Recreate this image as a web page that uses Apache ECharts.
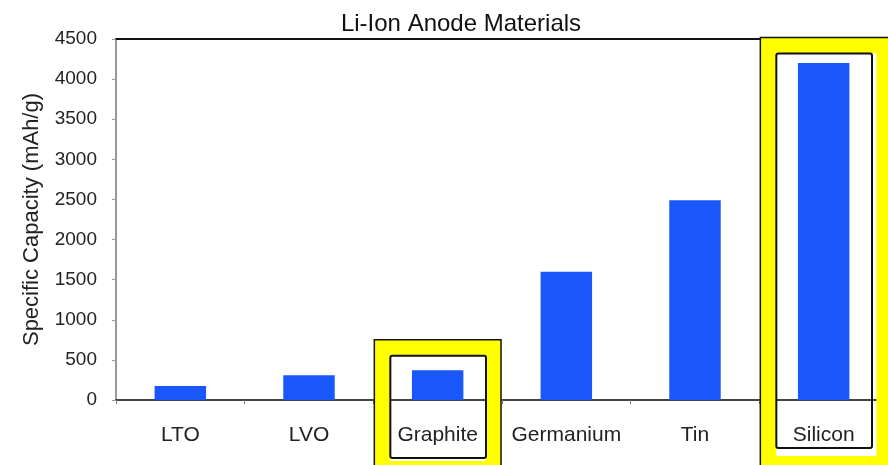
<!DOCTYPE html>
<html>
<head>
<meta charset="utf-8">
<script src="https://cdn.jsdelivr.net/npm/echarts@6/dist/echarts.min.js"></script>
<style>html,body{margin:0;padding:0;background:#fff}#c{width:888px;height:465px}</style>
</head>
<body>
<div id="c"></div>
<script>
var categories = ['LTO', 'LVO', 'Graphite', 'Germanium', 'Tin', 'Silicon'];
var capacity = [175, 310, 372, 1600, 2490, 4200];
var yTicks = [0, 500, 1000, 1500, 2000, 2500, 3000, 3500, 4000, 4500];
var highlighted = ['Graphite', 'Silicon'];

var FONT = '"Liberation Sans", Arial, sans-serif';
var chart = echarts.init(document.getElementById('c'), null, {renderer: 'canvas'});
chart.setOption({
  animation: false,
  backgroundColor: '#fff',
  title: {
    text: 'Li-Ion Anode Materials', left: 456, textAlign: 'center', top: 7,
    textStyle: {fontFamily: FONT, fontSize: 24, fontWeight: 'normal', color: '#111'}
  },
  grid: {left: 116, right: 0, top: 39, bottom: 65, containLabel: false},
  xAxis: [{
    type: 'category', data: categories,
    axisLine: {lineStyle: {color: '#444', width: 2}},
    axisTick: {show: true, length: 4, lineStyle: {color: '#777'}},
    axisLabel: {fontFamily: FONT, fontSize: 21, color: '#222', margin: 25, interval: 0}
  }, {
    type: 'category', data: categories, position: 'top',
    axisLine: {lineStyle: {color: '#111', width: 2}},
    axisTick: {show: false}, axisLabel: {show: false}
  }],
  yAxis: {
    type: 'value', min: yTicks[0], max: yTicks[yTicks.length - 1], interval: yTicks[1] - yTicks[0],
    name: 'Specific Capacity (mAh/g)', nameLocation: 'middle', nameGap: 73, nameRotate: 90,
    nameTextStyle: {fontFamily: FONT, fontSize: 22, color: '#222'},
    axisLine: {show: true, lineStyle: {color: '#999', width: 2}},
    axisTick: {show: true, length: 4, lineStyle: {color: '#999'}},
    axisLabel: {fontFamily: FONT, fontSize: 19, color: '#222', margin: 19,
      formatter: function (v) { return String(v); }},
    splitLine: {show: false}
  },
  series: [{
    type: 'bar', data: capacity, barWidth: '40%', z: 5,
    itemStyle: {color: '#1A57FB'}
  }]
});

// highlight frames around selected categories, positioned from the axis scale
var band = chart.convertToPixel({xAxisIndex: 0}, categories[1]) - chart.convertToPixel({xAxisIndex: 0}, categories[0]);
var frameTopValue = {Graphite: 750, Silicon: 4520};
var innerBottomPx = {Graphite: 458, Silicon: 448};
var elements = [];
highlighted.forEach(function (name) {
  var cx = chart.convertToPixel({xAxisIndex: 0}, name);
  var top = chart.convertToPixel({yAxisIndex: 0}, frameTopValue[name]);
  var oh = band / 2 - 1, ih = band / 2 - 17;
  var oL = cx - oh, oR = cx + oh + (name === 'Silicon' ? 10 : 0);
  var oT = top, oB = 480;
  var iL = cx - ih, iR = cx + ih + 1, iT = top + 16, iB = innerBottomPx[name];
  elements.push({type: 'rect', z: 100, silent: true,
    shape: {x: (oL + iL) / 2, y: (oT + iT) / 2, width: ((oR + iR) / 2) - ((oL + iL) / 2), height: ((oB + iB) / 2) - ((oT + iT) / 2)},
    style: {fill: null, stroke: '#FFFF00', lineWidth: 16}});
  elements.push({type: 'rect', z: 101, silent: true,
    shape: {x: oL, y: oT, width: oR - oL, height: oB - oT},
    style: {fill: null, stroke: '#111', lineWidth: 1.5}});
  elements.push({type: 'rect', z: 101, silent: true,
    shape: {x: iL, y: iT, width: iR - iL, height: iB - iT, r: 2},
    style: {fill: null, stroke: '#111', lineWidth: 2}});
});
chart.setOption({graphic: {elements: elements}});
</script>
</body>
</html>
